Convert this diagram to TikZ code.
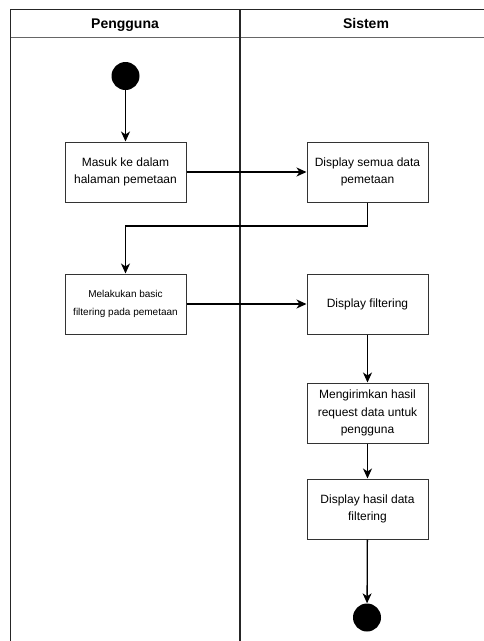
\documentclass[tikz,border=0pt]{standalone}
\usepackage{fontspec}
\setmainfont{Liberation Sans}
\usetikzlibrary{arrows.meta}
\begin{document}
\begin{tikzpicture}[x=1pt,y=-1pt,
  lane/.style={draw=black!85, line width=1.4pt},
  action/.style={draw=black!80, line width=1pt, fill=white, minimum width=121pt, minimum height=60pt,
    align=center, inner sep=2pt, font=\fontsize{12}{17.5}\selectfont},
  small/.style={font=\fontsize{10}{17.5}\selectfont},
  dot/.style={circle, fill=black, minimum size=28pt, inner sep=0pt},
  flow/.style={line width=1.3pt, -{Stealth[length=10pt,width=9pt,inset=3pt]}},
  head/.style={font=\bfseries\fontsize{14}{16}\selectfont, anchor=base}]
\useasboundingbox (0,0) rectangle (484,641);
% swimlane frame
\draw[lane] (10.5,641) -- (10.5,9.5) -- (484,9.5);
\draw[lane, draw=black!60] (10.5,37.5) -- (484,37.5);
\draw[lane] (240,9.5) -- (240,641);
\node[head] (hUser) at (125,28) {Pengguna};
\node[head] (hSys) at (366,28) {Sistem};
% nodes
\node[dot] (start) at (125.5,76) {};
\node[action] (masuk) at (125.5,172) {Masuk ke dalam\\halaman pemetaan};
\node[action] (dispAll) at (367.5,172) {Display semua data\\pemetaan};
\node[action, small] (filter) at (125.5,304) {Melakukan basic\\filtering pada pemetaan};
\node[action] (dispFilt) at (367.5,304) {Display filtering};
\node[action] (kirim) at (367.5,413) {Mengirimkan hasil\\request data untuk\\pengguna};
\node[action] (hasil) at (367.5,509) {Display hasil data\\filtering};
\node[dot] (end) at (367,617.5) {};
% flows
\draw[flow] (start) -- (masuk);
\draw[flow] (masuk) -- (dispAll);
\draw[flow] (dispAll.south) -- (367.5,226) -| (filter.north);
\draw[flow] (filter) -- (dispFilt);
\draw[flow] (dispFilt) -- (kirim);
\draw[flow] (kirim) -- (hasil);
\draw[flow] (hasil) -- (end);
\end{tikzpicture}
\end{document}
